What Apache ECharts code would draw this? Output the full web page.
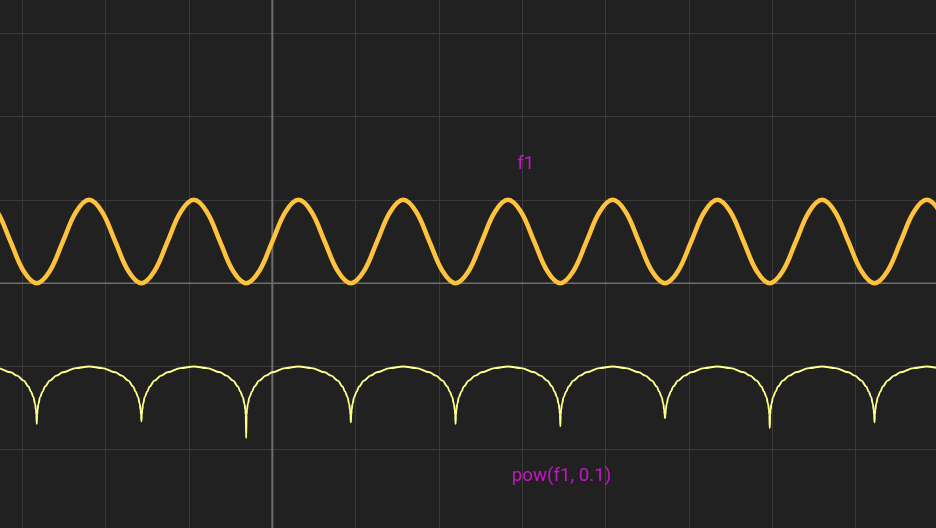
<!DOCTYPE html>
<html>
<head>
<meta charset="utf-8">
<script src="https://cdn.jsdelivr.net/npm/echarts@6/dist/echarts.min.js"></script>
<style>
html,body{margin:0;padding:0;background:#212121;overflow:hidden;width:936px;height:528px;position:relative;}
#chart{position:absolute;left:-60.67px;top:-50.33px;width:1000px;height:583.33px;}
</style>
</head>
<body>
<div id="chart"></div>
<script>
// f1 samples (x, value)
const f1X = [-3.456,-3.299,-3.142,-2.985,-2.827,-2.670,-2.513,-2.356,
  -2.199,-2.042,-1.885,-1.728,-1.571,-1.414,-1.257,-1.100,
  -0.942,-0.785,-0.628,-0.471,-0.314,-0.157,0.000,0.157,
  0.314,0.471,0.628,0.785,0.942,1.100,1.257,1.414,
  1.571,1.728,1.885,2.042,2.199,2.356,2.513,2.670,
  2.827,2.985,3.142,3.299,3.456,3.613,3.770,3.927,
  4.084,4.241,4.398,4.555,4.712,4.869,5.027,5.184,
  5.341,5.498,5.655,5.812,5.969,6.126,6.283,6.440,
  6.597,6.754,6.912,7.069,7.226,7.383,7.540,7.697,
  7.854,8.011,8.168];
const f1Y = [1,0.854,0.5,0.146,0,0.146,0.5,0.854,
  1,0.854,0.5,0.146,0,0.146,0.5,0.854,
  1,0.854,0.5,0.146,0,0.146,0.5,0.854,
  1,0.854,0.5,0.146,0,0.146,0.5,0.854,
  1,0.854,0.5,0.146,0,0.146,0.5,0.854,
  1,0.854,0.5,0.146,0,0.146,0.5,0.854,
  1,0.854,0.5,0.146,0,0.146,0.5,0.854,
  1,0.854,0.5,0.146,0,0.146,0.5,0.854,
  1,0.854,0.5,0.146,0,0.146,0.5,0.854,
  1,0.854,0.5];

// pow(f1, 0.1) curve (drawn shifted down by 2)
const powX = [-3.456,
  -3.298,-3.141,-3.063,-2.984,-2.927,-2.897,-2.867,-2.847,-2.837,-2.832,-2.827,-2.822,-2.817,-2.807,-2.787,-2.757,-2.727,-2.670,-2.591,-2.513,-2.356,-2.199,
  -2.042,-1.885,-1.807,-1.728,-1.671,-1.641,-1.611,-1.591,-1.581,-1.576,-1.571,-1.566,-1.561,-1.551,-1.531,-1.501,-1.471,-1.414,-1.335,-1.257,-1.100,-0.943,
  -0.785,-0.628,-0.550,-0.471,-0.414,-0.384,-0.354,-0.334,-0.324,-0.319,-0.314,-0.309,-0.304,-0.294,-0.274,-0.244,-0.214,-0.157,-0.078,0.000,0.157,0.314,
  0.471,0.628,0.706,0.785,0.842,0.872,0.902,0.922,0.932,0.937,0.942,0.947,0.952,0.962,0.982,1.012,1.042,1.099,1.178,1.256,1.413,1.570,
  1.728,1.885,1.963,2.042,2.099,2.129,2.159,2.179,2.189,2.194,2.199,2.204,2.209,2.219,2.239,2.269,2.299,2.356,2.435,2.513,2.670,2.827,
  2.985,3.142,3.220,3.299,3.356,3.386,3.416,3.436,3.446,3.451,3.456,3.461,3.466,3.476,3.496,3.526,3.556,3.613,3.692,3.770,3.927,4.084,
  4.241,4.398,4.476,4.555,4.612,4.642,4.672,4.692,4.702,4.707,4.712,4.717,4.722,4.732,4.752,4.782,4.812,4.869,4.948,5.026,5.183,5.341,
  5.498,5.655,5.733,5.812,5.869,5.899,5.929,5.949,5.959,5.964,5.969,5.974,5.979,5.989,6.009,6.039,6.069,6.126,6.205,6.283,6.440,6.597,
  6.755,6.912,6.990,7.069,7.126,7.156,7.186,7.206,7.216,7.221,7.226,7.231,7.236,7.246,7.266,7.296,7.326,7.383,7.462,7.540,7.697,7.854,
  8.011,8.168];
const powY = [-1.00,
  -1.02,-1.07,-1.11,-1.17,-1.24,-1.30,-1.37,-1.45,-1.52,-1.58,-1.69,-1.58,-1.52,-1.45,-1.37,-1.30,-1.24,-1.17,-1.11,-1.07,-1.02,-1.00,
  -1.02,-1.07,-1.11,-1.17,-1.24,-1.30,-1.37,-1.45,-1.52,-1.58,-1.66,-1.58,-1.52,-1.45,-1.37,-1.30,-1.24,-1.17,-1.11,-1.07,-1.02,-1.00,
  -1.02,-1.07,-1.11,-1.17,-1.24,-1.30,-1.37,-1.45,-1.52,-1.58,-1.86,-1.58,-1.52,-1.45,-1.37,-1.30,-1.24,-1.17,-1.11,-1.07,-1.02,-1.00,
  -1.02,-1.07,-1.11,-1.17,-1.24,-1.30,-1.37,-1.45,-1.52,-1.58,-1.67,-1.58,-1.52,-1.45,-1.37,-1.30,-1.24,-1.17,-1.11,-1.07,-1.02,-1.00,
  -1.02,-1.07,-1.11,-1.17,-1.24,-1.30,-1.37,-1.45,-1.52,-1.58,-1.69,-1.58,-1.52,-1.45,-1.37,-1.30,-1.24,-1.17,-1.11,-1.07,-1.02,-1.00,
  -1.02,-1.07,-1.11,-1.17,-1.24,-1.30,-1.37,-1.45,-1.52,-1.58,-1.72,-1.58,-1.52,-1.45,-1.37,-1.30,-1.24,-1.17,-1.11,-1.07,-1.02,-1.00,
  -1.02,-1.07,-1.11,-1.17,-1.24,-1.30,-1.37,-1.45,-1.52,-1.58,-1.62,-1.58,-1.52,-1.45,-1.37,-1.30,-1.24,-1.17,-1.11,-1.07,-1.02,-1.00,
  -1.02,-1.07,-1.11,-1.17,-1.24,-1.30,-1.37,-1.45,-1.52,-1.58,-1.74,-1.58,-1.52,-1.45,-1.37,-1.30,-1.24,-1.17,-1.11,-1.07,-1.02,-1.00,
  -1.02,-1.07,-1.11,-1.17,-1.24,-1.30,-1.37,-1.45,-1.52,-1.58,-1.67,-1.58,-1.52,-1.45,-1.37,-1.30,-1.24,-1.17,-1.11,-1.07,-1.02,-1.00,
  -1.02,-1.07];

const seriesNames = ['f1', 'pow(f1, 0.1)'];
const labelPos = [[3.04, 1.43], [3.47, -2.32]]; // label anchor in data units

const chart = echarts.init(document.getElementById('chart'), null, {renderer: 'canvas'});

const zip = (xs, ys) => xs.map((x, i) => [x, ys[i]]);

const option = {
  backgroundColor: '#212121',
  animation: false,
  grid: {left: 0, right: 0, top: 0, bottom: 0, containLabel: false},
  xAxis: {
    type: 'value', min: -4, max: 8, interval: 1,
    axisLine: {show: false},
    axisTick: {show: false},
    axisLabel: {show: false},
    splitLine: {show: true, lineStyle: {color: '#3a3a3a', width: 1}}
  },
  yAxis: {
    type: 'value', min: -3, max: 4, interval: 1,
    axisLine: {show: false},
    axisTick: {show: false},
    axisLabel: {show: false},
    splitLine: {show: true, lineStyle: {color: '#3a3a3a', width: 1}}
  },
  series: [
    {
      name: 'xAxisLine', type: 'line', silent: true, symbol: 'none',
      data: [[-4, 0], [8, 0]],
      lineStyle: {color: '#6e6e6e', width: 1.5}, z: 1
    },
    {
      name: 'yAxisLine', type: 'line', silent: true, symbol: 'none',
      data: [[0, -3], [0, 4]],
      lineStyle: {color: '#6e6e6e', width: 2}, z: 1
    },
    {
      name: seriesNames[0], type: 'line', symbol: 'none', smooth: 0.37,
      data: zip(f1X, f1Y),
      lineStyle: {color: '#ffc23d', width: 4.5}, z: 3,
      clip: true
    },
    {
      name: seriesNames[1], type: 'line', symbol: 'none', smooth: 0.37,
      smoothMonotone: 'x',
      data: zip(powX, powY),
      lineStyle: {color: '#ffff90', width: 1.9}, z: 3,
      clip: true
    },
    {
      name: 'labels', type: 'scatter', symbolSize: 0, silent: true,
      data: labelPos.map((p, i) => ({value: p, name: seriesNames[i]})),
      label: {
        show: true, position: 'inside', formatter: '{b}',
        color: '#f012f0', fontFamily: 'Roboto', fontSize: 18.7
      },
      emphasis: {disabled: true},
      z: 4
    }
  ]
};
chart.setOption(option);
</script>
</body>
</html>
